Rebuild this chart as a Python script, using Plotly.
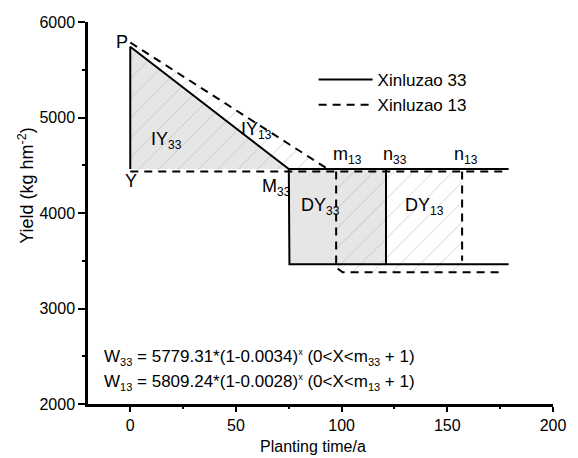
import plotly.graph_objects as go

FONT = "Liberation Sans, Arial, sans-serif"

# ---- values ----
# Xinluzao 33 (solid)
iy33_x = [0, 0, 75]
iy33_y = [4460, 5740, 4460]
dy33_x = [75, 75.3, 121, 121]
dy33_y = [4460, 3463, 3463, 4460]
top33_x = [0, 0, 75, 179]
top33_y = [4460, 5740, 4460, 4460]
box33_x = [75, 75.3, 179]
box33_y = [4460, 3463, 3463]
n33_x = [121, 121]
n33_y = [4460, 3463]

# Xinluzao 13 (dashed)
iy13_x = [0, 0, 93.5]
iy13_y = [4440, 5785, 4460]
dy13_x = [97.4, 97.4, 100.5, 157, 157]
dy13_y = [4435, 3430, 3380, 3380, 4435]
diag13_x = [0, 93.5]
diag13_y = [5785, 4460]
level13_x = [0, 177]
level13_y = [4435, 4435]
m13_x = [97.4, 97.4, 100.5, 176]
m13_y = [4435, 3430, 3380, 3380]
n13_x = [157, 157]
n13_y = [4435, 3500]

x_ticks = [0, 50, 100, 150, 200]
y_ticks = [2000, 3000, 4000, 5000, 6000]


def join(*segs):
    xs, ys = [], []
    for sx, sy in segs:
        if xs:
            xs.append(None)
            ys.append(None)
        xs += list(sx)
        ys += list(sy)
    return xs, ys


def sub(t, size):
    return '<sub><span style="font-size:%dpx">%s</span></sub>' % (size, t)


GRAY = "#e6e6e6"
hatch = dict(shape="/", fgcolor="#a8a8a8", bgcolor="rgba(0,0,0,0)", size=14, solidity=0.07)

fig = go.Figure()
for px, py in [(iy33_x, iy33_y), (dy33_x, dy33_y)]:
    fig.add_trace(go.Scatter(x=px, y=py, fill="toself", fillcolor=GRAY, mode="none",
                             showlegend=False, hoverinfo="skip"))
for px, py in [(iy13_x, iy13_y), (dy13_x, dy13_y)]:
    fig.add_trace(go.Scatter(x=px, y=py, fill="toself", fillcolor="rgba(0,0,0,0)",
                             fillpattern=hatch, mode="none", showlegend=False, hoverinfo="skip"))

sx, sy = join((top33_x, top33_y), (box33_x, box33_y), (n33_x, n33_y))
fig.add_trace(go.Scatter(x=sx, y=sy, mode="lines", name="Xinluzao 33",
                         line=dict(color="black", width=2), legendgroup="a"))
dx, dy = join((diag13_x, diag13_y), (level13_x, level13_y), (m13_x, m13_y), (n13_x, n13_y))
fig.add_trace(go.Scatter(x=dx, y=dy, mode="lines", name="Xinluzao 13",
                         line=dict(color="black", width=2, dash="8px,6px"), legendgroup="b"))

labels = [
    ("P", -7.5, 5791),
    ("Y", -3.5, 4335),
    ("IY" + sub("33", 12), 8.8, 4757),
    ("IY" + sub("13", 12), 51.6, 4869),
    ("M" + sub("33", 12), 61.4, 4272),
    ("DY" + sub("33", 12), 79.6, 4066),
    ("DY" + sub("13", 12), 129.1, 4073),
    ("m" + sub("13", 12), 94.8, 4607),
    ("n" + sub("33", 12), 118.4, 4607),
    ("n" + sub("13", 12), 152.1, 4607),
]
for t, x, y in labels:
    fig.add_annotation(x=x, y=y, text=t, showarrow=False, xanchor="left", yanchor="middle",
                       font=dict(family=FONT, size=18, color="black"))

eqs = [
    ("W" + sub("33", 11) + " = 5779.31*(1-0.0034)<sup><span style=\"font-size:9px\">x</span></sup> (0&lt;X&lt;m"
     + sub("33", 11) + " + 1)", 2482),
    ("W" + sub("13", 11) + " = 5809.24*(1-0.0028)<sup><span style=\"font-size:9px\">x</span></sup> (0&lt;X&lt;m"
     + sub("13", 11) + " + 1)", 2230),
]
for t, y in eqs:
    fig.add_annotation(x=-13.6, y=y, text=t, showarrow=False, xanchor="left", yanchor="middle",
                       font=dict(family=FONT, size=17, color="black"))

fig.add_annotation(xref="paper", yref="paper", x=-0.134, y=0.573, text="Yield (kg hm<sup>-2</sup>)",
                   textangle=-90, showarrow=False, xanchor="center", yanchor="middle",
                   font=dict(family=FONT, size=18, color="black"))
fig.add_annotation(xref="paper", yref="paper", x=0.483, y=(404 - 447) / 382, text="Planting time/a",
                   showarrow=False, xanchor="center", yanchor="middle",
                   font=dict(family=FONT, size=16, color="black"))

axis_common = dict(showgrid=False, zeroline=False, showline=True, linecolor="black", linewidth=2.5,
                   ticks="outside", tickcolor="black", tickwidth=2,
                   tickfont=dict(family=FONT, size=16, color="black"))
fig.update_xaxes(range=[-20, 200], tickvals=x_ticks, ticklen=5,
                 minor=dict(tickvals=[25, 75, 125, 175], ticks="outside", ticklen=2, tickwidth=2,
                            tickcolor="black"), **axis_common)
fig.update_yaxes(range=[2000, 6000], tickvals=y_ticks, ticklen=7,
                 minor=dict(tickvals=[2500, 3500, 4500, 5500], ticks="outside", ticklen=3, tickwidth=2,
                            tickcolor="black"), **axis_common)

fig.update_layout(
    width=578, height=458,
    margin=dict(l=88, r=18, t=22, b=54),
    paper_bgcolor="white", plot_bgcolor="white",
    showlegend=True,
    legend=dict(x=(317 - 88) / 472, y=(404 - 62) / 382, xanchor="left", yanchor="top",
                bgcolor="rgba(0,0,0,0)", borderwidth=0, itemwidth=54, tracegroupgap=0,
                font=dict(family=FONT, size=17, color="black")),
)

fig.write_html("out.html")
